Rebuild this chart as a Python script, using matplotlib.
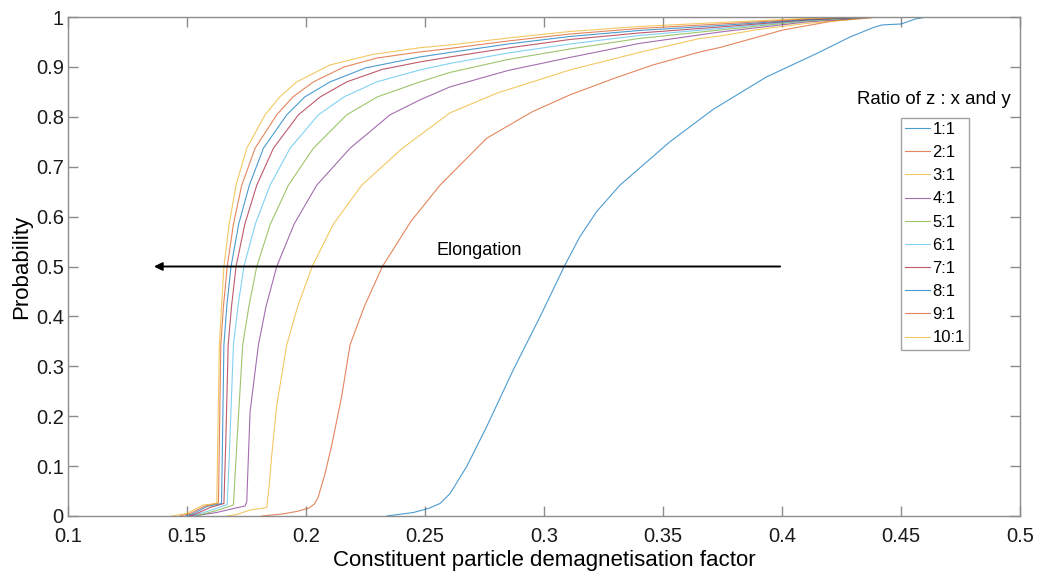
import numpy as np
import matplotlib
matplotlib.use("Agg")
import matplotlib.pyplot as plt

plt.rcParams['font.family'] = ['Liberation Sans', 'DejaVu Sans']

# couleurs par defaut matlab (cycle de 7)
couleurs = ['#0072BD', '#D95319', '#EDB120', '#7E2F8E', '#77AC30',
            '#4DBEEE', '#A2142F', '#0072BD', '#D95319', '#EDB120']

labels = ['1:1', '2:1', '3:1', '4:1', '5:1', '6:1', '7:1', '8:1', '9:1', '10:1']

# courbes (facteur, probabilite)
x_1 = [0.2339, 0.2451, 0.2514, 0.2563, 0.2605, 0.2675, 0.2759, 0.2871, 0.2983,
       0.3088, 0.3151, 0.3221, 0.3319, 0.3529, 0.3711, 0.3935, 0.4146, 0.4286,
       0.4384, 0.4419, 0.4454, 0.4500, 0.4560, 0.4610]
p_1 = [0.000, 0.007, 0.015, 0.025, 0.045, 0.099, 0.179, 0.293, 0.399,
       0.503, 0.560, 0.610, 0.663, 0.750, 0.815, 0.880, 0.927, 0.960,
       0.979, 0.984, 0.985, 0.986, 0.996, 1.000]

x_2 = [0.1815, 0.1900, 0.1960, 0.2013, 0.2035, 0.2050, 0.2080, 0.2108, 0.2150,
       0.2185, 0.2245, 0.2321, 0.2440, 0.2563, 0.2759, 0.2950, 0.3109, 0.3300,
       0.3458, 0.3655, 0.3740, 0.4004, 0.4214, 0.4380, 0.4420]
p_2 = [0.000, 0.004, 0.009, 0.016, 0.024, 0.036, 0.085, 0.142, 0.240,
       0.343, 0.420, 0.500, 0.590, 0.663, 0.757, 0.810, 0.844, 0.878,
       0.904, 0.930, 0.939, 0.974, 0.992, 0.999, 1.000]

x_3 = [0.1667, 0.1709, 0.1765, 0.1810, 0.1835, 0.1845, 0.1856, 0.1877, 0.1919,
       0.1965, 0.2026, 0.2115, 0.2234, 0.2405, 0.2605, 0.2800, 0.3109, 0.3400,
       0.3655, 0.3740, 0.3900, 0.4100, 0.4410]
p_3 = [0.000, 0.003, 0.012, 0.015, 0.017, 0.060, 0.122, 0.222, 0.343,
       0.420, 0.500, 0.585, 0.663, 0.737, 0.808, 0.847, 0.894, 0.929,
       0.957, 0.962, 0.975, 0.987, 1.000]

x_4 = [0.1513, 0.1555, 0.1625, 0.1695, 0.1744, 0.1751, 0.1758, 0.1765, 0.1800,
       0.1832, 0.1877, 0.1950, 0.2045, 0.2185, 0.2353, 0.2479, 0.2605, 0.2850,
       0.3109, 0.3400, 0.3740, 0.4100, 0.4400]
p_4 = [0.000, 0.002, 0.007, 0.015, 0.020, 0.029, 0.120, 0.209, 0.343,
       0.420, 0.500, 0.585, 0.663, 0.737, 0.804, 0.834, 0.860, 0.893,
       0.919, 0.947, 0.970, 0.990, 1.000]

x_5 = [0.1534, 0.1569, 0.1625, 0.1695, 0.1710, 0.1734, 0.1760, 0.1793, 0.1850,
       0.1926, 0.2031, 0.2171, 0.2300, 0.2479, 0.2605, 0.2850, 0.3109, 0.3400,
       0.3740, 0.4100, 0.4380]
p_5 = [0.000, 0.004, 0.011, 0.022, 0.150, 0.343, 0.420, 0.500, 0.585,
       0.663, 0.737, 0.804, 0.840, 0.870, 0.889, 0.915, 0.936, 0.957,
       0.974, 0.992, 1.000]

x_6 = [0.1525, 0.1555, 0.1610, 0.1669, 0.1680, 0.1695, 0.1714, 0.1739, 0.1787,
       0.1849, 0.1933, 0.2052, 0.2160, 0.2297, 0.2479, 0.2605, 0.2850, 0.3109,
       0.3400, 0.3740, 0.4100, 0.4370]
p_6 = [0.000, 0.005, 0.013, 0.023, 0.150, 0.343, 0.420, 0.500, 0.585,
       0.663, 0.737, 0.804, 0.840, 0.870, 0.894, 0.907, 0.928, 0.946,
       0.963, 0.977, 0.993, 1.000]

x_7 = [0.1510, 0.1541, 0.1597, 0.1655, 0.1663, 0.1673, 0.1687, 0.1706, 0.1743,
       0.1793, 0.1863, 0.1968, 0.2060, 0.2171, 0.2320, 0.2479, 0.2605, 0.2850,
       0.3109, 0.3400, 0.3740, 0.4100, 0.4360]
p_7 = [0.000, 0.005, 0.017, 0.025, 0.150, 0.343, 0.420, 0.500, 0.585,
       0.663, 0.737, 0.804, 0.840, 0.870, 0.895, 0.910, 0.920, 0.938,
       0.955, 0.968, 0.980, 0.994, 1.000]

x_8 = [0.1495, 0.1527, 0.1583, 0.1645, 0.1649, 0.1655, 0.1667, 0.1685, 0.1717,
       0.1762, 0.1821, 0.1919, 0.1995, 0.2101, 0.2250, 0.2479, 0.2605, 0.2850,
       0.3109, 0.3400, 0.3740, 0.4100, 0.4350]
p_8 = [0.000, 0.005, 0.019, 0.025, 0.150, 0.343, 0.420, 0.500, 0.585,
       0.663, 0.737, 0.804, 0.840, 0.870, 0.898, 0.920, 0.929, 0.946,
       0.961, 0.973, 0.983, 0.995, 1.000]

x_9 = [0.1470, 0.1513, 0.1576, 0.1632, 0.1636, 0.1642, 0.1653, 0.1669, 0.1695,
       0.1730, 0.1786, 0.1877, 0.1945, 0.2031, 0.2160, 0.2300, 0.2479, 0.2605,
       0.2850, 0.3109, 0.3400, 0.3740, 0.4100, 0.4340]
p_9 = [0.000, 0.005, 0.020, 0.026, 0.150, 0.343, 0.420, 0.500, 0.585,
       0.663, 0.737, 0.804, 0.840, 0.870, 0.900, 0.918, 0.930, 0.937,
       0.952, 0.966, 0.977, 0.986, 0.996, 1.000]

x_10 = [0.1436, 0.1499, 0.1569, 0.1625, 0.1629, 0.1636, 0.1645, 0.1655, 0.1677,
        0.1706, 0.1751, 0.1828, 0.1890, 0.1961, 0.2101, 0.2280, 0.2479, 0.2605,
        0.2850, 0.3109, 0.3400, 0.3740, 0.4100, 0.4320]
p_10 = [0.000, 0.005, 0.022, 0.025, 0.150, 0.343, 0.420, 0.500, 0.585,
        0.663, 0.737, 0.804, 0.840, 0.870, 0.904, 0.925, 0.9385, 0.944,
        0.958, 0.971, 0.981, 0.989, 0.997, 1.000]

courbesX = [x_1, x_2, x_3, x_4, x_5, x_6, x_7, x_8, x_9, x_10]
courbesP = [p_1, p_2, p_3, p_4, p_5, p_6, p_7, p_8, p_9, p_10]

xticks = [0.1, 0.15, 0.2, 0.25, 0.3, 0.35, 0.4, 0.45, 0.5]
xticklabels = ['0.1', '0.15', '0.2', '0.25', '0.3', '0.35', '0.4', '0.45', '0.5']
yticks = [0, 0.1, 0.2, 0.3, 0.4, 0.5, 0.6, 0.7, 0.8, 0.9, 1]
yticklabels = ['0', '0.1', '0.2', '0.3', '0.4', '0.5', '0.6', '0.7', '0.8', '0.9', '1']


fig = plt.figure(figsize=(10.4, 5.73), dpi=100)
ax = fig.add_axes([0.0654, 0.0995, 0.9154, 0.8708])

for i in range(len(courbesX)):
    ax.plot(courbesX[i], courbesP[i], color=couleurs[i], lw=0.8,
            alpha=0.7, label=labels[i])

ax.set_xlim(0.1, 0.5)
ax.set_ylim(0, 1)
ax.set_xticks(xticks)
ax.set_xticklabels(xticklabels)
ax.set_yticks(yticks)
ax.set_yticklabels(yticklabels)

gris = '#8c8c8c'
for s in ax.spines.values():
    s.set_color(gris)
    s.set_linewidth(1.0)
ax.tick_params(direction='in', length=7, width=1.0, color=gris,
               labelsize=14.5, labelcolor='#1a1a1a',
               top=True, right=True)
ax.tick_params(axis='x', pad=8)
ax.tick_params(axis='y', pad=3)

ax.set_xlabel("Constituent particle demagnetisation factor", fontsize=16,
              labelpad=3)
ax.set_ylabel("Probability", fontsize=16, labelpad=3)

# fleche elongation
ax.annotate("", xy=(0.1361, 0.5), xytext=(0.3992, 0.5),
            arrowprops=dict(arrowstyle='-|>', lw=1.4, color='black',
                            mutation_scale=12, shrinkA=0, shrinkB=0))
ax.text(0.255, 0.515, "Elongation", fontsize=13, ha='left', va='bottom')

leg = ax.legend(loc='upper left', bbox_to_anchor=(0.8747, 0.7982),
                fontsize=12, frameon=True, fancybox=False,
                handlelength=1.5, handletextpad=0.15, borderpad=0.25,
                borderaxespad=0, labelspacing=0.49)
leg.get_frame().set_edgecolor(gris)
leg.get_frame().set_linewidth(1.0)
ax.text(0.9097, 0.834, "Ratio of z : x and y", fontsize=13.4,
        ha='center', va='center', transform=ax.transAxes)

fig.savefig("out.png", dpi=100)
